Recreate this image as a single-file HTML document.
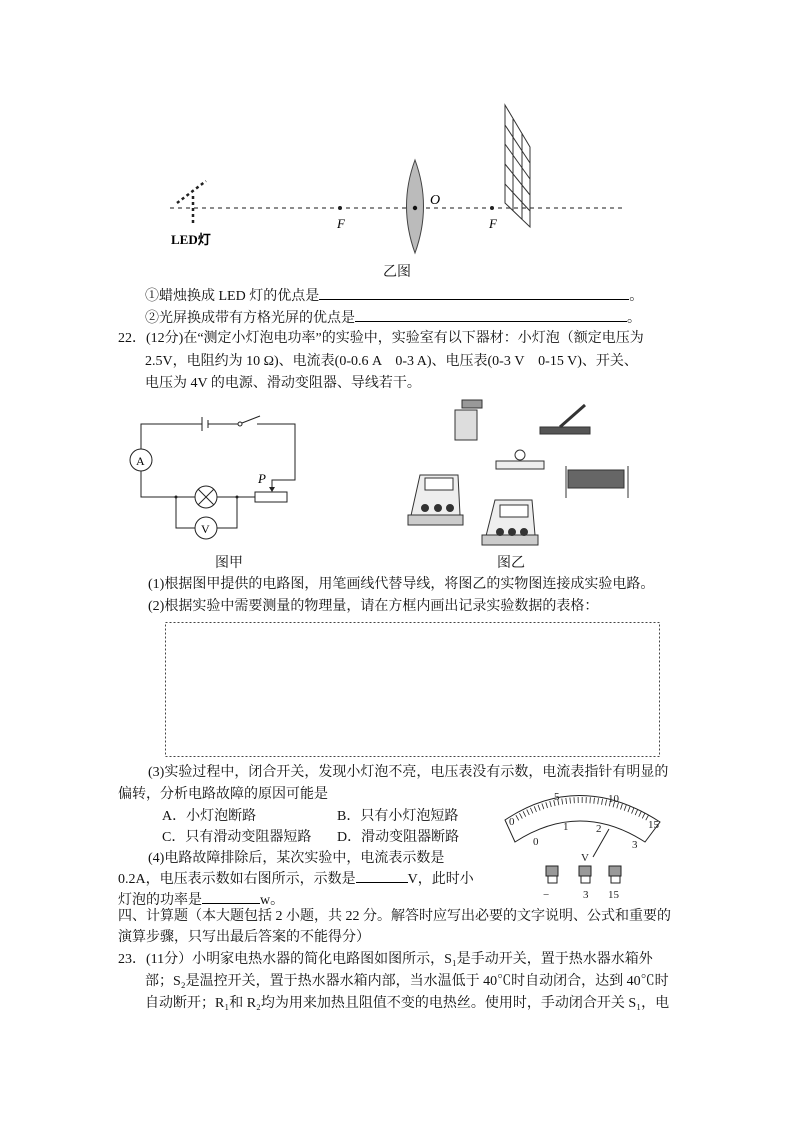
<!DOCTYPE html>
<html><head><meta charset="utf-8"><style>
body{margin:0;background:#fff}
#p{position:relative;width:794px;height:1123px;overflow:hidden;font-family:"Liberation Serif","Noto Serif CJK SC","Noto Sans CJK SC",serif;font-size:14px;color:#111}
.t{position:absolute;white-space:nowrap;line-height:16px}
.u{display:inline-block;border-bottom:1px solid #000;height:13px;vertical-align:baseline}
svg{position:absolute;left:0;top:0}
</style></head><body><div id="p">
<svg width="794" height="1123" viewBox="0 0 794 1123">
<!-- optics -->
<line x1="170" y1="208" x2="625" y2="208" stroke="#666" stroke-width="1.5" stroke-dasharray="4,4"/>
<line x1="193" y1="196" x2="193" y2="226" stroke="#222" stroke-width="2.5" stroke-dasharray="3,3"/>
<line x1="177" y1="203" x2="206" y2="181" stroke="#222" stroke-width="2.5" stroke-dasharray="3,3"/>
<circle cx="340" cy="208" r="2" fill="#222"/><circle cx="415" cy="208" r="2" fill="#222"/><circle cx="492" cy="208" r="2" fill="#222"/>
<path d="M415 160 Q432 206 415 253 Q398 206 415 160Z" fill="#bbb" stroke="#444"/>
<circle cx="415" cy="208" r="2.2" fill="#111"/>
<g stroke="#333" stroke-width="1" fill="none">
<path d="M505 105 L530 147 L530 227 L505 203 Z"/>
<line x1="513" y1="119" x2="513" y2="211"/><line x1="522" y1="133" x2="522" y2="219"/>
<line x1="505" y1="125" x2="530" y2="163"/><line x1="505" y1="144" x2="530" y2="179"/><line x1="505" y1="164" x2="530" y2="195"/><line x1="505" y1="184" x2="530" y2="211"/>
</g>
<text x="337" y="228" font-style="italic" font-size="13" font-family="Liberation Serif">F</text>
<text x="489" y="228" font-style="italic" font-size="13" font-family="Liberation Serif">F</text>
<text x="430" y="204" font-style="italic" font-size="14" font-family="Liberation Serif">O</text>
<text x="171" y="244" font-weight="bold" font-size="13" font-family="Liberation Serif">LED灯</text>
<!-- circuit -->
<g stroke="#222" stroke-width="1" fill="none">
<polyline points="202,424 141,424 141,449"/>
<line x1="202" y1="417" x2="202" y2="431"/><line x1="208" y1="420" x2="208" y2="428"/>
<polyline points="208,424 238,424"/><circle cx="240" cy="424" r="2"/><line x1="242" y1="423" x2="260" y2="416"/>
<polyline points="257,424 295,424 295,480 272,480 272,490"/>
<circle cx="141" cy="460" r="11" fill="#fff"/>
<polyline points="141,471 141,497 195,497"/><circle cx="206" cy="497" r="11"/>
<line x1="198" y1="489" x2="214" y2="505"/><line x1="214" y1="489" x2="198" y2="505"/>
<polyline points="217,497 255,497"/><rect x="255" y="492" width="32" height="10"/>
<polyline points="176,497 176,528 195,528"/><circle cx="206" cy="528" r="11"/><polyline points="217,528 237,528 237,497"/>
</g>
<circle cx="176" cy="497" r="1.5" fill="#222"/><circle cx="237" cy="497" r="1.5" fill="#222"/>
<path d="M269 487 L272 492 L275 487Z" fill="#222"/>
<text x="136" y="465" font-size="12" font-family="Liberation Serif">A</text>
<text x="201" y="533" font-size="12" font-family="Liberation Serif">V</text>
<text x="258" y="483" font-size="13" font-style="italic" font-family="Liberation Serif">P</text>
<!-- apparatus -->
<g stroke="#333" fill="#ddd" stroke-width="1">
<rect x="455" y="410" width="22" height="30"/><rect x="462" y="400" width="20" height="8" fill="#999"/>
<rect x="540" y="427" width="50" height="7" fill="#555"/><line x1="560" y1="427" x2="585" y2="405" stroke-width="3"/>
<rect x="496" y="461" width="48" height="8" fill="#eee"/><circle cx="520" cy="455" r="5" fill="#fff"/>
<rect x="568" y="470" width="56" height="18" fill="#666"/><line x1="566" y1="466" x2="566" y2="498"/><line x1="628" y1="466" x2="628" y2="498"/>
<path d="M410 520 L420 475 L458 475 L460 515 Z" fill="#eee"/><rect x="408" y="515" width="55" height="10" fill="#ccc"/>
<rect x="425" y="478" width="28" height="12" fill="#fff"/>
<circle cx="425" cy="508" r="3.5" fill="#333"/><circle cx="438" cy="508" r="3.5" fill="#333"/><circle cx="450" cy="508" r="3.5" fill="#333"/>
<path d="M485 540 L495 500 L532 500 L535 535 Z" fill="#eee"/><rect x="482" y="535" width="56" height="10" fill="#ccc"/>
<rect x="500" y="505" width="28" height="12" fill="#fff"/>
<circle cx="500" cy="532" r="3.5" fill="#333"/><circle cx="512" cy="532" r="3.5" fill="#333"/><circle cx="524" cy="532" r="3.5" fill="#333"/>
</g>
<!-- dashed box -->
<rect x="165.5" y="622.5" width="494" height="134" fill="none" stroke="#444" stroke-dasharray="2,2"/>
<!-- meter -->
<g stroke="#222" fill="none" stroke-width="1">
<path d="M505 820 Q580 770 660 822 L645 842 Q580 800 515 842 Z"/>
<path d="M517 818 Q580 782 648 818" stroke-width="6" stroke-dasharray="0.8,3.2"/>
<line x1="593" y1="857" x2="609" y2="829"/>
</g>
<g font-size="11" font-family="Liberation Serif" fill="#222">
<text x="509" y="825">0</text><text x="554" y="800">5</text><text x="608" y="802">10</text><text x="648" y="828">15</text>
<text x="533" y="845">0</text><text x="563" y="830">1</text><text x="596" y="832">2</text><text x="632" y="848">3</text>
<text x="581" y="861">V</text><text x="543" y="898">−</text><text x="583" y="898">3</text><text x="608" y="898">15</text>
</g>
<g fill="#999" stroke="#222"><rect x="546" y="866" width="12" height="10"/><rect x="579" y="866" width="12" height="10"/><rect x="609" y="866" width="12" height="10"/></g>
<g fill="#fff" stroke="#222"><rect x="548" y="876" width="9" height="7"/><rect x="581" y="876" width="9" height="7"/><rect x="611" y="876" width="9" height="7"/></g>
</svg>
<div class="t" style="left:383px;top:265px">乙图</div>
<div class="t" style="left:145px;top:286px">①蜡烛换成 LED 灯的优点是<span class="u" style="width:310px"></span>。</div>
<div class="t" style="left:145px;top:308px">②光屏换成带有方格光屏的优点是<span class="u" style="width:272px"></span>。</div>
<div class="t" style="left:118px;top:331px">22．(12分)在“测定小灯泡电功率”的实验中，实验室有以下器材：小灯泡（额定电压为</div>
<div class="t" style="left:145px;top:354px">2.5V，电阻约为 10 Ω)、电流表(0-0.6 A　0-3 A)、电压表(0-3 V　0-15 V)、开关、</div>
<div class="t" style="left:145px;top:376px">电压为 4V 的电源、滑动变阻器、导线若干。</div>
<div class="t" style="left:215px;top:556px">图甲</div>
<div class="t" style="left:497px;top:556px">图乙</div>
<div class="t" style="left:148px;top:577px">(1)根据图甲提供的电路图，用笔画线代替导线，将图乙的实物图连接成实验电路。</div>
<div class="t" style="left:148px;top:599px">(2)根据实验中需要测量的物理量，请在方框内画出记录实验数据的表格：</div>
<div class="t" style="left:148px;top:765px">(3)实验过程中，闭合开关，发现小灯泡不亮，电压表没有示数，电流表指针有明显的</div>
<div class="t" style="left:118px;top:787px">偏转，分析电路故障的原因可能是</div>
<div class="t" style="left:162px;top:809px">A．小灯泡断路</div><div class="t" style="left:337px;top:809px">B．只有小灯泡短路</div>
<div class="t" style="left:162px;top:830px">C．只有滑动变阻器短路</div><div class="t" style="left:337px;top:830px">D．滑动变阻器断路</div>
<div class="t" style="left:148px;top:851px">(4)电路故障排除后，某次实验中，电流表示数是</div>
<div class="t" style="left:118px;top:869px">0.2A，电压表示数如右图所示，示数是<span class="u" style="width:52px"></span>V，此时小</div>
<div class="t" style="left:118px;top:890px">灯泡的功率是<span class="u" style="width:58px"></span>w。</div>
<div class="t" style="left:118px;top:909px">四、计算题（本大题包括 2 小题，共 22 分。解答时应写出必要的文字说明、公式和重要的</div>
<div class="t" style="left:118px;top:930px">演算步骤，只写出最后答案的不能得分）</div>
<div class="t" style="left:118px;top:952px">23．(11分）小明家电热水器的简化电路图如图所示，S₁是手动开关，置于热水器水箱外</div>
<div class="t" style="left:145px;top:974px">部；S₂是温控开关，置于热水器水箱内部，当水温低于 40℃时自动闭合，达到 40℃时</div>
<div class="t" style="left:145px;top:996px">自动断开；R₁和 R₂均为用来加热且阻值不变的电热丝。使用时，手动闭合开关 S₁，电</div>
</div></body></html>
